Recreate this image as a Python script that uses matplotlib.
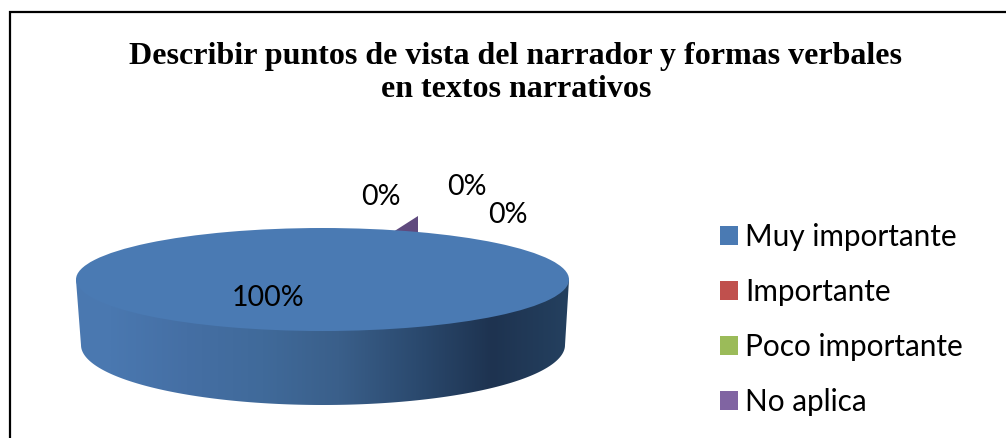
import numpy as np
import matplotlib
matplotlib.use("Agg")
import matplotlib.pyplot as plt
from matplotlib.colors import LinearSegmentedColormap
from matplotlib.patches import Polygon, Patch

title = "Describir puntos de vista del narrador y formas verbales\nen textos narrativos"
categories = ["Muy importante", "Importante", "Poco importante", "No aplica"]
values = [100, 0, 0, 0]
colors = ["#4a7ab3", "#c0504d", "#9bbb59", "#8064a2"]
label_pos = [(268, 298), (381, 197), (467, 187), (508, 215)]
side_colors = ["#4a78b0", "#456fa4", "#406a9a", "#3a5f8a", "#2b4a6f", "#1e3350", "#24405f"]
W, H = 1006, 438


def ellipse(cx, cy, rx, ry, a0, a1, n=200):
    t = np.linspace(a0, a1, n)
    return np.column_stack([cx + rx * np.cos(t), cy + ry * np.sin(t)])


fig = plt.figure(figsize=(W / 100, H / 100), dpi=100)
bg = fig.add_axes([0, 0, 1, 1])
bg.set_xlim(0, W)
bg.set_ylim(H, 0)
bg.axis("off")

# chart frame, only top and left show in the crop
bg.plot([10, 10, W], [H, 12, 12], color="black", lw=1.6, solid_joinstyle="miter")

# side of the disc, gradient clipped to the wall shape
wall = np.vstack([[(76, 280)], ellipse(323, 345, 242, 60, np.pi, 0), [(569, 280)]])
clip = Polygon(wall, closed=True, transform=bg.transData, fc="none", ec="none")
bg.add_patch(clip)
cmap = LinearSegmentedColormap.from_list("side", side_colors)
grad = bg.imshow(np.linspace(0, 1, 256)[None, :], cmap=cmap, aspect="auto",
                 extent=(110, 569, 410, 270), zorder=1)
left = bg.imshow(np.zeros((1, 2)), cmap=cmap, vmin=0, vmax=1, aspect="auto",
                 extent=(70, 110, 410, 270), zorder=1)
grad.set_clip_path(clip)
left.set_clip_path(clip)
bg.set_xlim(0, W)
bg.set_ylim(H, 0)

# sliver of the zero slices behind the top
bg.add_patch(Polygon([(393, 232), (418, 216), (418, 234)], closed=True, fc="#5f4a7e", ec="none", zorder=1))

# top of the disc
pie_ax = fig.add_axes([76 / W, (H - 331) / H, 493 / W, 103 / H])
pie_ax.pie(values, colors=colors, startangle=90, radius=1)
pie_ax.set_aspect("auto")
pie_ax.set_xlim(-1, 1)
pie_ax.set_ylim(-1, 1)

text_ax = fig.add_axes([0, 0, 1, 1])
text_ax.set_xlim(0, W)
text_ax.set_ylim(H, 0)
text_ax.axis("off")

text_ax.text(516, 73, title, family="Liberation Serif", weight="bold", fontsize=23,
             ha="center", va="center", linespacing=1.17)

for v, (x, y) in zip(values, label_pos):
    text_ax.text(x, y, "%d%%" % v, family="Lato", fontsize=20.5, ha="center", va="center")

handles = [Patch(fc=c, ec="none") for c in colors]
text_ax.legend(handles, categories, loc="center left", bbox_to_anchor=(720 / W, 1 - 319.5 / H),
               frameon=False, prop={"family": "Lato", "size": 21.4}, labelspacing=0.9,
               handlelength=0.6, handleheight=0.6, handletextpad=0.25, borderpad=0, borderaxespad=0)

fig.savefig("out.png", dpi=100)
